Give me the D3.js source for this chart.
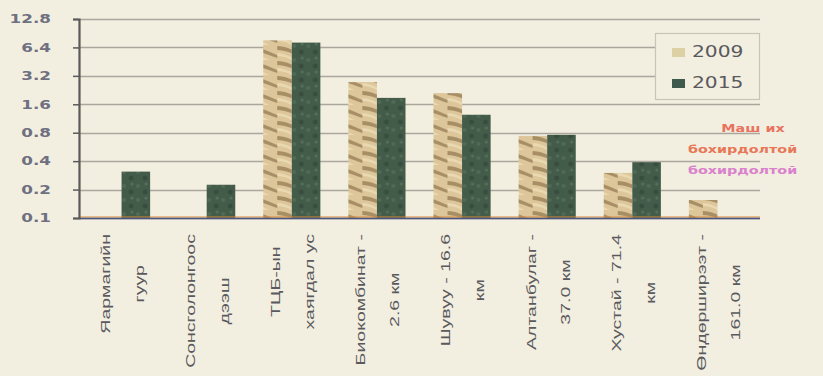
<!DOCTYPE html>
<html><head><meta charset="utf-8">
<script src="https://cdn.jsdelivr.net/npm/d3@7"></script>
<style>
html,body{margin:0;padding:0;background:#f2eee0;}
svg{display:block;}
</style></head>
<body>
<svg id="chart" width="823" height="376"></svg>
<script>
const categories = [
  ["Яармагийн", "гуур"],
  ["Сонсголонгоос", "дээш"],
  ["ТЦБ-ын", "хаягдал ус"],
  ["Биокомбинат -", "2.6 км"],
  ["Шувуу - 16.6", "км"],
  ["Алтанбулаг -", "37.0 км"],
  ["Хустай - 71.4", "км"],
  ["Өндөрширээт -", "161.0 км"]
];
const seriesNames = ["2009", "2015"];
const values2009 = [null, null, 7.6, 2.75, 2.1, 0.74, 0.3, 0.155];
const values2015 = [0.31, 0.225, 7.2, 1.87, 1.24, 0.76, 0.39, null];
const yTicks = [0.1, 0.2, 0.4, 0.8, 1.6, 3.2, 6.4, 12.8];
const annotation = ["Маш их", "бохирдолтой", "бохирдолтой"];

(function(){
const svg = d3.select("#chart");
const W = 823, H = 376;
svg.append("rect").attr("width", W).attr("height", H).attr("fill", "#f2eee0");

const pL = 79, pR = 760, pT = 19, pB = 218;

const defs = svg.append("defs");
const p1 = defs.append("pattern").attr("id", "rope").attr("patternUnits", "userSpaceOnUse")
  .attr("width", 28).attr("height", 15);
p1.append("rect").attr("width", 28).attr("height", 15).attr("fill", "#dcc69a");
p1.append("path").attr("d", "M0,1 C8,1 16,5 28,10 L28,13 C16,9 8,5 0,5 Z").attr("fill", "#9a8058").attr("opacity", 0.8);
p1.append("path").attr("d", "M0,8 C6,8 12,11 20,15 L14,15 C9,12 5,11 0,11 Z").attr("fill", "#efe0bb").attr("opacity", 0.7);
const p2 = defs.append("pattern").attr("id", "moss").attr("patternUnits", "userSpaceOnUse")
  .attr("width", 14).attr("height", 14);
p2.append("rect").attr("width", 14).attr("height", 14).attr("fill", "#435c49");
p2.append("circle").attr("cx", 3).attr("cy", 4).attr("r", 2).attr("fill", "#587360").attr("opacity", 0.6);
p2.append("circle").attr("cx", 10).attr("cy", 10).attr("r", 2.5).attr("fill", "#33483a").attr("opacity", 0.7);
p2.append("circle").attr("cx", 11).attr("cy", 2).attr("r", 1.5).attr("fill", "#6a8470").attr("opacity", 0.5);

const x0 = d3.scaleBand().domain(d3.range(categories.length)).range([pL, pR]).paddingInner(0).paddingOuter(0);
const x1 = d3.scaleBand().domain(seriesNames).range([14, x0.bandwidth() - 14]).padding(0);
const y = d3.scaleLog().base(2).domain([0.1, 12.8]).range([pB, pT]);

// gridlines
svg.append("g").selectAll("line").data(yTicks).join("line")
  .attr("x1", pL).attr("x2", pR)
  .attr("y1", d => Math.round(y(d)) + 0.5).attr("y2", d => Math.round(y(d)) + 0.5)
  .attr("stroke", "#aaa89d").attr("stroke-width", 1.3);

// bars
const data = categories.map((c, i) => ({i, v: [values2009[i], values2015[i]]}));
const groups = svg.append("g").selectAll("g").data(data).join("g")
  .attr("transform", d => `translate(${x0(d.i)},0)`);
groups.selectAll("rect").data(d => seriesNames.map((s, k) => ({s, v: d.v[k]})).filter(e => e.v != null))
  .join("rect")
  .attr("x", e => x1(e.s)).attr("width", x1.bandwidth())
  .attr("y", e => y(e.v)).attr("height", e => pB - y(e.v))
  .attr("fill", e => e.s === "2009" ? "url(#rope)" : "url(#moss)");

// baseline
svg.append("line").attr("x1", pL).attr("x2", pR).attr("y1", pB - 1).attr("y2", pB - 1)
  .attr("stroke", "#d58a3a").attr("stroke-width", 1.2);
svg.append("line").attr("x1", pL).attr("x2", pR).attr("y1", pB + 0.5).attr("y2", pB + 0.5)
  .attr("stroke", "#4a5583").attr("stroke-width", 1.6);

// y axis
const yAxis = d3.axisLeft(y).tickValues(yTicks).tickSize(6).tickPadding(22).tickFormat(d3.format(".1f"));
const ya = svg.append("g").attr("transform", `translate(${pL},0)`).call(yAxis);
ya.select(".domain").attr("stroke", "#5a5a5a").attr("stroke-width", 2.2);
ya.selectAll(".tick line").attr("stroke", "#5a5a5a").attr("stroke-width", 1.5);
ya.selectAll(".tick text").attr("fill", "#6e7080").attr("font-family", "DejaVu Sans")
  .attr("font-weight", "bold").attr("font-size", 12)
  .attr("transform", function(){ const xx = +d3.select(this).attr("x"); return `translate(${xx},0) scale(1.4,1) translate(${-xx},0)`; });

// x labels
const lab = svg.append("g");
categories.forEach((lines, i) => {
  const cx = x0(i) + x0.bandwidth() / 2 + 1;
  const g = lab.append("g");
  const texts = lines.map((t, j) => g.append("text").text(t)
    .attr("font-family", "Liberation Sans").attr("font-size", 13).attr("fill", "#5a5a5e")
    .attr("text-anchor", "middle").attr("dominant-baseline", "central"));
  const sx = 1.5;
  const maxLen = d3.max(texts, t => t.node().getComputedTextLength()) * sx;
  const topY = 234;
  const gap = 34;
  texts.forEach((t, j) => {
    const lx = cx + (j - (lines.length - 1) / 2) * gap;
    const ly = topY + maxLen / 2;
    t.attr("transform", `translate(${lx},${ly}) rotate(-90) scale(${sx},1)`);
  });
});

// legend
const lg = svg.append("g");
lg.append("rect").attr("x", 655.5).attr("y", 33.5).attr("width", 104).attr("height", 66)
  .attr("fill", "#f2eee0").attr("stroke", "#c9c5b2").attr("stroke-width", 1.2);
seriesNames.forEach((s, k) => {
  const yy = 52 + k * 31;
  lg.append("rect").attr("x", 672).attr("y", yy - 4).attr("width", 13).attr("height", 9)
    .attr("fill", k === 0 ? "#ddd0a4" : "#3f5a4d");
  lg.append("text").text(s).attr("x", 692).attr("y", yy)
    .attr("dominant-baseline", "central").attr("font-family", "DejaVu Sans").attr("font-size", 15)
    .attr("fill", "#5a5a5e")
    .attr("transform", `translate(692,0) scale(1.35,1) translate(-692,0)`);
});

// annotation
const annColors = ["#e8553e", "#e65a36", "#d466c8"];
annotation.forEach((t, k) => {
  const ax = k === 0 ? 753 : 688;
  svg.append("text").text(t).attr("x", ax).attr("y", 128 + k * 21)
    .attr("text-anchor", k === 0 ? "middle" : "start").attr("dominant-baseline", "central")
    .attr("font-family", "DejaVu Sans").attr("font-weight", "bold").attr("font-size", 11)
    .attr("fill", annColors[k]).attr("opacity", 0.8)
    .attr("transform", `translate(${ax},0) scale(1.3,1) translate(${-ax},0)`);
});
})();
</script>
</body></html>
